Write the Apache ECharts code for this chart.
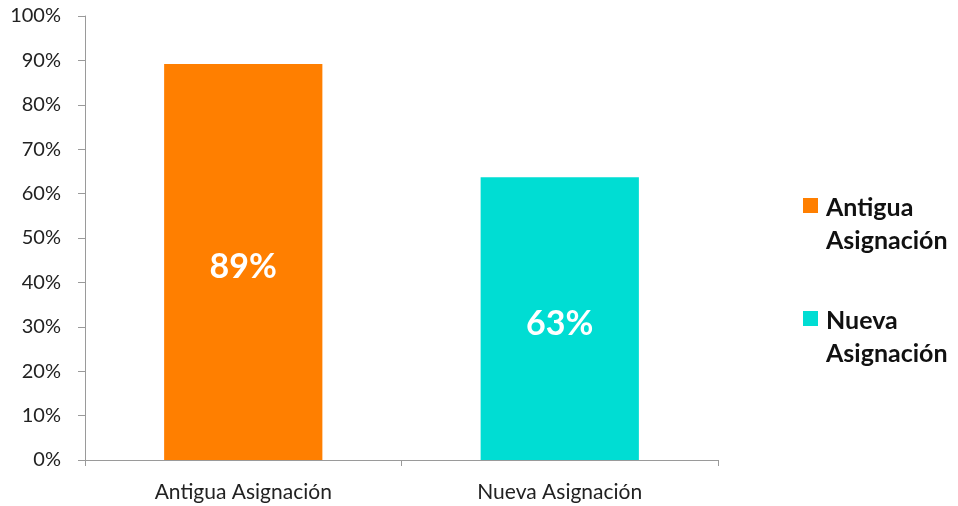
<!DOCTYPE html>
<html><head><meta charset="utf-8">
<script src="https://cdn.jsdelivr.net/npm/echarts@6/dist/echarts.min.js"></script>
<style>html,body{margin:0;padding:0;background:#fff}#c{width:958px;height:506px}</style>
</head><body><div id="c"></div>
<script>
const categories = ['Antigua Asignación', 'Nueva Asignación'];
const values = [89.2, 63.7];
const barLabels = ['89%', '63%'];
const colors = ['#FF7F00', '#00DDD3'];
const legendLines = [['Antigua', 'Asignación'], ['Nueva', 'Asignación']];
const yTicks = [0, 10, 20, 30, 40, 50, 60, 70, 80, 90, 100];

const font = 'Lato';
const chart = echarts.init(document.getElementById('c'));
const legendGraphics = [];
legendLines.forEach((lines, i) => {
  const top = 198 + i * 113;
  legendGraphics.push({type: 'rect', left: 803, top: top, shape: {width: 15, height: 15}, style: {fill: colors[i]}});
  legendGraphics.push({type: 'text', left: 826, top: top - 7, style: {text: lines.join('\n'), font: 'bold 25px ' + font, lineHeight: 33, fill: '#111'}});
});
chart.setOption({
  animation: false,
  grid: {left: 85, right: 240, top: 16, bottom: 46},
  xAxis: {
    type: 'category', data: categories,
    axisLine: {lineStyle: {color: '#9a9a9a', width: 1}},
    axisTick: {show: true, length: 6, lineStyle: {color: '#9a9a9a'}},
    axisLabel: {color: '#222', fontFamily: font, fontSize: 21, margin: 22}
  },
  yAxis: {
    type: 'value', min: 0, max: 100, interval: 10,
    axisLine: {show: true, lineStyle: {color: '#9a9a9a', width: 1}},
    axisTick: {show: true, length: 7, lineStyle: {color: '#9a9a9a'}},
    splitLine: {show: false},
    axisLabel: {color: '#222', fontFamily: font, fontSize: 20, margin: 24,
      formatter: v => yTicks.includes(v) ? v + '%' : ''}
  },
  series: [{
    type: 'bar', barWidth: '50%',
    data: values.map((v, i) => ({value: v, itemStyle: {color: colors[i]}})),
    label: {show: true, position: 'inside', offset: [0, 5], color: '#fff', fontFamily: font, fontWeight: 'bold', fontSize: 34,
      formatter: p => barLabels[p.dataIndex]}
  }],
  graphic: legendGraphics
});
</script></body></html>
